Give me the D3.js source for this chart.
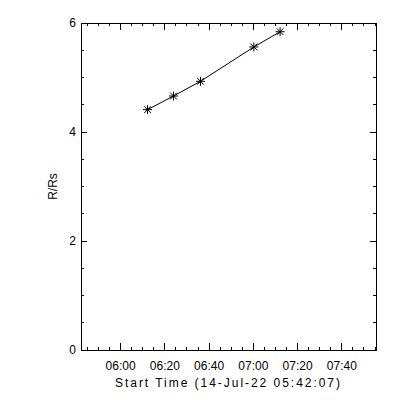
<!DOCTYPE html>
<html>
<head>
<meta charset="utf-8">
<script src="https://cdn.jsdelivr.net/npm/d3@7"></script>
<style>
  body { margin: 0; background: #fff; }
  text { font-family: "Liberation Sans", Arial, sans-serif; fill: #000; }
</style>
</head>
<body>
<div id="chart"></div>
<script>
// height-time points (UT) and R/Rs
var times = ["06:12:11", "06:23:56", "06:36:07", "07:00:14", "07:12:06"];
var heights = [4.41, 4.66, 4.93, 5.56, 5.84];
var startTime = "2022-07-14T05:42:07Z";
var spanSeconds = 8000;
var yTicks = [0, 2, 4, 6];
var xTitle = "Start Time (14-Jul-22 05:42:07)";
var yTitle = "R/Rs";

var w = 400, h = 400;
var margin = { top: 23, right: 24, bottom: 50, left: 81 };
var width = w - margin.left - margin.right,
    height = h - margin.top - margin.bottom;

var t0 = new Date(startTime);
var t1 = new Date(t0.getTime() + spanSeconds * 1000);
var parse = function (s) { return new Date("2022-07-14T" + s + "Z"); };

var scaleX = d3.scaleUtc().domain([t0, t1]).range([0, width]);
var scaleY = d3.scaleLinear().domain([0, 6]).range([height, 0]);

var svg = d3.select("#chart").append("svg")
  .attr("width", w).attr("height", h);
var g = svg.append("g")
  .attr("transform", "translate(" + margin.left + "," + margin.top + ")");

// frame
g.append("rect")
  .attr("width", width).attr("height", height)
  .attr("fill", "none").attr("stroke", "#000").attr("stroke-width", 1)
  .attr("shape-rendering", "crispEdges");

var majorX = scaleX.ticks(d3.utcMinute.every(20));
var minorX = scaleX.ticks(d3.utcMinute.every(5));
var minorY = d3.range(0, 6.01, 0.5);

function tickLines(sel, data, fx, len, side) {
  sel.selectAll(null).data(data).enter().append("line")
    .attr("x1", function (d) { return fx(d); })
    .attr("x2", function (d) { return fx(d); })
    .attr("y1", side == "bottom" ? height : 0)
    .attr("y2", side == "bottom" ? height - len : len)
    .attr("stroke", "#000").attr("shape-rendering", "crispEdges");
}
function tickLinesY(sel, data, fy, len, side) {
  sel.selectAll(null).data(data).enter().append("line")
    .attr("y1", function (d) { return fy(d); })
    .attr("y2", function (d) { return fy(d); })
    .attr("x1", side == "left" ? 0 : width)
    .attr("x2", side == "left" ? len : width - len)
    .attr("stroke", "#000").attr("shape-rendering", "crispEdges");
}

var ticks = g.append("g");
tickLines(ticks, minorX, scaleX, 3, "bottom");
tickLines(ticks, minorX, scaleX, 3, "top");
tickLines(ticks, majorX, scaleX, 7, "bottom");
tickLines(ticks, majorX, scaleX, 7, "top");
tickLinesY(ticks, minorY, scaleY, 3, "left");
tickLinesY(ticks, minorY, scaleY, 3, "right");
tickLinesY(ticks, yTicks, scaleY, 6, "left");
tickLinesY(ticks, yTicks, scaleY, 6, "right");

// tick labels
var fmt = d3.utcFormat("%H:%M");
g.append("g").selectAll("text").data(majorX).enter().append("text")
  .attr("x", function (d) { return scaleX(d); })
  .attr("y", height + 20)
  .attr("text-anchor", "middle")
  .attr("font-size", "12px")
  .text(function (d) { return fmt(d); });

g.append("g").selectAll("text").data(yTicks).enter().append("text")
  .attr("x", -5)
  .attr("y", function (d) { return scaleY(d); })
  .attr("dy", "0.36em")
  .attr("text-anchor", "end")
  .attr("font-size", "12px")
  .text(function (d) { return d; });

// titles
g.append("text")
  .attr("x", width / 2 - 1)
  .attr("y", height + 37)
  .attr("text-anchor", "middle")
  .attr("font-size", "12px")
  .attr("textLength", 225)
  .attr("lengthAdjust", "spacing")
  .text(xTitle);

g.append("text")
  .attr("transform", "translate(-24," + (height / 2) + ") rotate(-90)")
  .attr("text-anchor", "middle")
  .attr("font-size", "12px")
  .text(yTitle);

// data line and asterisks
var pts = times.map(function (t, i) { return { t: parse(t), r: heights[i] }; });
var line = d3.line()
  .x(function (d) { return scaleX(d.t); })
  .y(function (d) { return scaleY(d.r); });

g.append("path").datum(pts)
  .attr("d", line)
  .attr("fill", "none").attr("stroke", "#000").attr("stroke-width", 1);

var r = 4.5, q = r * 0.75;
var star = "M" + (-r) + ",0H" + r + "M0," + (-r) + "V" + r +
  "M" + (-q) + "," + (-q) + "L" + q + "," + q +
  "M" + (-q) + "," + q + "L" + q + "," + (-q);
g.append("g").selectAll("path").data(pts).enter().append("path")
  .attr("transform", function (d) { return "translate(" + scaleX(d.t) + "," + scaleY(d.r) + ")"; })
  .attr("d", star)
  .attr("fill", "none").attr("stroke", "#000").attr("stroke-width", 1);
</script>
</body>
</html>
